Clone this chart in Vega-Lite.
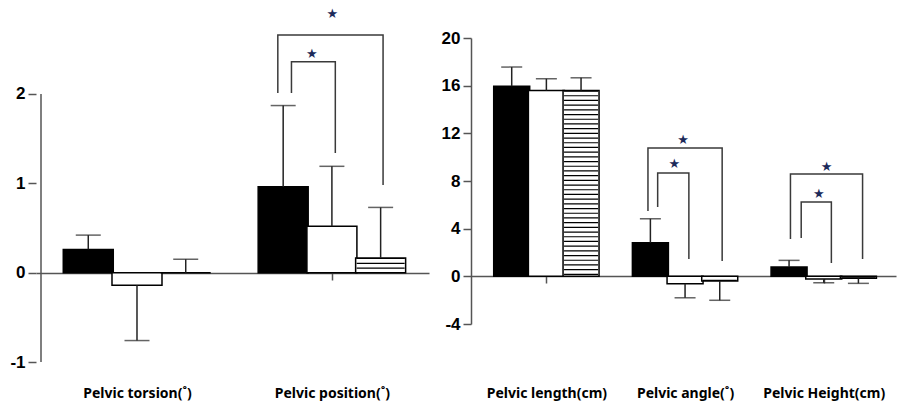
{
  "$schema": "https://vega.github.io/schema/vega-lite/v6.json",
  "bounds": "flush",
  "spacing": 42,
  "padding": {"left": 9, "top": 7, "right": 5, "bottom": 5},
  "config": {
    "view": {"stroke": null},
    "axis": {"grid": false, "domainColor": "#555", "tickColor": "#555", "domainWidth": 1.5, "tickWidth": 1.5, "labelColor": "black"},
    "axisY": {"labelFont": "Liberation Sans", "labelFontSize": 17, "labelFontWeight": "bold", "tickSize": 8, "labelPadding": 3, "labelExpr": "datum.value + ''"},
    "axisX": {"labelFont": "Noto Sans", "labelFontSize": 14, "labelFontWeight": "bold", "tickSize": 7, "zindex": 1}
  },
  "datasets": {
    "barsL": [
      {"group": "Pelvic torsion(˚)", "cond": "G1", "slot": 1, "mean": 0.26, "tip": 0.42},
      {"group": "Pelvic torsion(˚)", "cond": "G2", "slot": 2, "mean": -0.14, "tip": -0.76},
      {"group": "Pelvic torsion(˚)", "cond": "G3", "slot": 3, "mean": 0, "tip": 0.15},
      {"group": "Pelvic position(˚)", "cond": "G1", "slot": 5, "mean": 0.96, "tip": 1.87},
      {"group": "Pelvic position(˚)", "cond": "G2", "slot": 6, "mean": 0.52, "tip": 1.19},
      {"group": "Pelvic position(˚)", "cond": "G3", "slot": 7, "mean": 0.165, "tip": 0.73}
    ],
    "barsR": [
      {"group": "Pelvic length(cm)", "cond": "G1", "slot": 1, "mean": 15.96, "tip": 17.56},
      {"group": "Pelvic length(cm)", "cond": "G2", "slot": 2, "mean": 15.6, "tip": 16.58},
      {"group": "Pelvic length(cm)", "cond": "G3", "slot": 3, "mean": 15.6, "tip": 16.66},
      {"group": "Pelvic angle(˚)", "cond": "G1", "slot": 5, "mean": 2.82, "tip": 4.83},
      {"group": "Pelvic angle(˚)", "cond": "G2", "slot": 6, "mean": -0.62, "tip": -1.8},
      {"group": "Pelvic angle(˚)", "cond": "G3", "slot": 7, "mean": -0.39, "tip": -2.01},
      {"group": "Pelvic Height(cm)", "cond": "G1", "slot": 9, "mean": 0.78, "tip": 1.34},
      {"group": "Pelvic Height(cm)", "cond": "G2", "slot": 10, "mean": -0.23, "tip": -0.54},
      {"group": "Pelvic Height(cm)", "cond": "G3", "slot": 11, "mean": -0.17, "tip": -0.59}
    ],
    "bracketsL": [
      {"id": "pos_1v3", "k": 1, "x": 4.89, "y": 2.01},
      {"id": "pos_1v3", "k": 2, "x": 4.89, "y": 2.66},
      {"id": "pos_1v3", "k": 3, "x": 7.05, "y": 2.66},
      {"id": "pos_1v3", "k": 4, "x": 7.05, "y": 0.98},
      {"id": "pos_1v2", "k": 1, "x": 5.17, "y": 2.01},
      {"id": "pos_1v2", "k": 2, "x": 5.17, "y": 2.36},
      {"id": "pos_1v2", "k": 3, "x": 6.07, "y": 2.36},
      {"id": "pos_1v2", "k": 4, "x": 6.07, "y": 1.34}
    ],
    "bracketsR": [
      {"id": "ang_1v3", "k": 1, "x": 4.93, "y": 5.48},
      {"id": "ang_1v3", "k": 2, "x": 4.93, "y": 10.76},
      {"id": "ang_1v3", "k": 3, "x": 7.07, "y": 10.76},
      {"id": "ang_1v3", "k": 4, "x": 7.07, "y": 1.28},
      {"id": "ang_1v2", "k": 1, "x": 5.21, "y": 5.81},
      {"id": "ang_1v2", "k": 2, "x": 5.21, "y": 8.67},
      {"id": "ang_1v2", "k": 3, "x": 6.11, "y": 8.67},
      {"id": "ang_1v2", "k": 4, "x": 6.11, "y": 1.45},
      {"id": "hgt_1v3", "k": 1, "x": 9.04, "y": 3.13},
      {"id": "hgt_1v3", "k": 2, "x": 9.04, "y": 8.58},
      {"id": "hgt_1v3", "k": 3, "x": 11.12, "y": 8.58},
      {"id": "hgt_1v3", "k": 4, "x": 11.12, "y": 1.45},
      {"id": "hgt_1v2", "k": 1, "x": 9.35, "y": 3.21},
      {"id": "hgt_1v2", "k": 2, "x": 9.35, "y": 6.23},
      {"id": "hgt_1v2", "k": 3, "x": 10.22, "y": 6.23},
      {"id": "hgt_1v2", "k": 4, "x": 10.22, "y": 1.12}
    ],
    "starsL": [
      {"x": 6.01, "y": 2.9},
      {"x": 5.59, "y": 2.45}
    ],
    "starsR": [
      {"x": 5.94, "y": 11.43},
      {"x": 5.69, "y": 9.42},
      {"x": 10.08, "y": 9.17},
      {"x": 9.86, "y": 6.9}
    ]
  },
  "hconcat": [
    {
      "width": 393,
      "height": 324,
      "layer": [
        {
          "data": {"name": "barsL"},
          "mark": {"type": "bar", "width": 50, "stroke": "black", "strokeWidth": 1.5},
          "encoding": {
            "x": {"field": "slot", "type": "quantitative", "title": null, "scale": {"domain": [0.03, 7.89], "nice": false, "zero": false},
                  "axis": {"values": [2, 6], "offset": -89, "labelPadding": 106,
                           "labelExpr": "datum.value == 2 ? 'Pelvic torsion(˚)' : 'Pelvic position(˚)'"}},
            "y": {"field": "mean", "type": "quantitative", "title": null, "scale": {"domain": [-1, 2.626], "nice": false, "zero": false},
                  "axis": {"values": [-1, 0, 1, 2], "domain": false}},
            "y2": {"datum": 0},
            "fill": {"field": "cond", "type": "nominal", "scale": {"domain": ["G1", "G2", "G3"], "range": ["black", "white", "white"]}, "legend": null}
          }
        },
        {
          "data": {"name": "barsL"},
          "transform": [{"filter": "datum.cond == 'G3'"}],
          "mark": {"type": "rule", "strokeWidth": 48, "strokeDash": [1.2, 3.6], "color": "black"},
          "encoding": {
            "x": {"field": "slot", "type": "quantitative", "title": null},
            "y": {"field": "mean", "type": "quantitative", "title": null},
            "y2": {"datum": 0}
          }
        },
        {
          "data": {"name": "barsL"},
          "mark": {"type": "rule", "strokeWidth": 1.5, "color": "#222"},
          "encoding": {
            "x": {"field": "slot", "type": "quantitative", "title": null},
            "y": {"field": "mean", "type": "quantitative", "title": null},
            "y2": {"field": "tip"}
          }
        },
        {
          "data": {"name": "barsL"},
          "mark": {"type": "tick", "orient": "horizontal", "size": 25, "thickness": 1.5, "color": "#222"},
          "encoding": {
            "x": {"field": "slot", "type": "quantitative", "title": null},
            "y": {"field": "tip", "type": "quantitative", "title": null}
          }
        },
        {
          "data": {"name": "bracketsL"},
          "mark": {"type": "line", "stroke": "#3a3a3a", "strokeWidth": 1.5, "clip": false},
          "encoding": {
            "x": {"field": "x", "type": "quantitative", "title": null},
            "y": {"field": "y", "type": "quantitative", "title": null},
            "detail": {"field": "id"},
            "order": {"field": "k", "type": "quantitative"}
          }
        },
        {
          "data": {"name": "starsL"},
          "mark": {"type": "text", "text": "★", "font": "DejaVu Sans", "fontSize": 13, "color": "#1c2a5a", "baseline": "middle", "align": "center"},
          "encoding": {
            "x": {"field": "x", "type": "quantitative", "title": null},
            "y": {"field": "y", "type": "quantitative", "title": null}
          }
        },
        {
          "data": {"values": [{}]},
          "mark": {"type": "rule", "color": "#555", "strokeWidth": 1.5},
          "encoding": {
            "x": {"datum": 0.03, "type": "quantitative", "title": null},
            "y": {"datum": -1, "type": "quantitative", "title": null},
            "y2": {"datum": 2}
          }
        }
      ]
    },
    {
      "width": 425,
      "height": 286,
      "layer": [
        {
          "data": {"name": "barsR"},
          "mark": {"type": "bar", "width": 36, "stroke": "black", "strokeWidth": 1.5},
          "encoding": {
            "x": {"field": "slot", "type": "quantitative", "title": null, "scale": {"domain": [-0.03, 11.94], "nice": false, "zero": false},
                  "axis": {"values": [2, 6, 10], "offset": -48, "labelPadding": 103,
                           "labelExpr": "datum.value == 2 ? 'Pelvic length(cm)' : datum.value == 6 ? 'Pelvic angle(˚)' : 'Pelvic Height(cm)'"}},
            "y": {"field": "mean", "type": "quantitative", "title": null, "scale": {"domain": [-4, 20], "nice": false, "zero": false},
                  "axis": {"values": [-4, 0, 4, 8, 12, 16, 20]}},
            "y2": {"datum": 0},
            "fill": {"field": "cond", "type": "nominal", "scale": {"domain": ["G1", "G2", "G3"], "range": ["black", "white", "white"]}, "legend": null}
          }
        },
        {
          "data": {"name": "barsR"},
          "transform": [{"filter": "datum.cond == 'G3'"}],
          "mark": {"type": "rule", "strokeWidth": 34, "strokeDash": [1.2, 3.5], "color": "black"},
          "encoding": {
            "x": {"field": "slot", "type": "quantitative", "title": null},
            "y": {"field": "mean", "type": "quantitative", "title": null},
            "y2": {"datum": 0}
          }
        },
        {
          "data": {"name": "barsR"},
          "mark": {"type": "rule", "strokeWidth": 1.5, "color": "#222"},
          "encoding": {
            "x": {"field": "slot", "type": "quantitative", "title": null},
            "y": {"field": "mean", "type": "quantitative", "title": null},
            "y2": {"field": "tip"}
          }
        },
        {
          "data": {"name": "barsR"},
          "mark": {"type": "tick", "orient": "horizontal", "size": 21, "thickness": 1.5, "color": "#222"},
          "encoding": {
            "x": {"field": "slot", "type": "quantitative", "title": null},
            "y": {"field": "tip", "type": "quantitative", "title": null}
          }
        },
        {
          "data": {"name": "bracketsR"},
          "mark": {"type": "line", "stroke": "#3a3a3a", "strokeWidth": 1.5, "clip": false},
          "encoding": {
            "x": {"field": "x", "type": "quantitative", "title": null},
            "y": {"field": "y", "type": "quantitative", "title": null},
            "detail": {"field": "id"},
            "order": {"field": "k", "type": "quantitative"}
          }
        },
        {
          "data": {"name": "starsR"},
          "mark": {"type": "text", "text": "★", "font": "DejaVu Sans", "fontSize": 13, "color": "#1c2a5a", "baseline": "middle", "align": "center"},
          "encoding": {
            "x": {"field": "x", "type": "quantitative", "title": null},
            "y": {"field": "y", "type": "quantitative", "title": null}
          }
        }
      ]
    }
  ]
}
